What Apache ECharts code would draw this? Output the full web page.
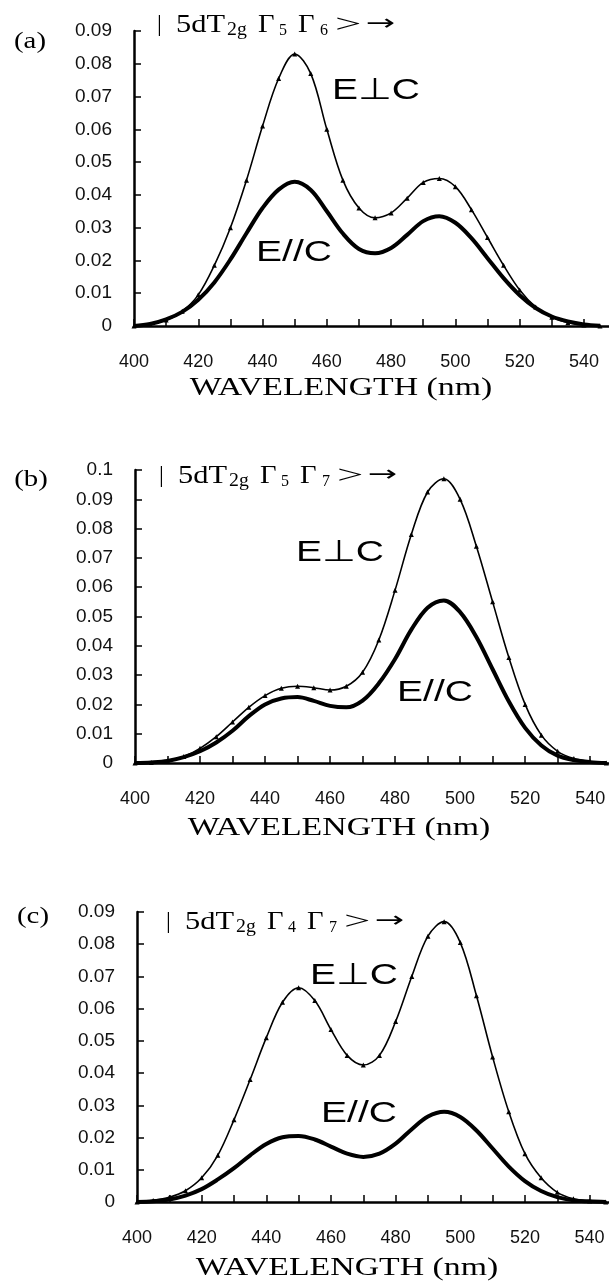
<!DOCTYPE html>
<html>
<head>
<meta charset="utf-8">
<script src="https://cdn.jsdelivr.net/npm/echarts@6/dist/echarts.min.js"></script>
<style>
  html, body { margin: 0; padding: 0; background: #fff; }
  #main { width: 609px; height: 1284px; }
</style>
</head>
<body>
<div id="main"></div>
<script>
// wavelength (nm)
var wl = [400, 405, 410, 415, 420, 425, 430, 435, 440, 445, 450, 455, 460, 465, 470, 475,
          480, 485, 490, 495, 500, 505, 510, 515, 520, 525, 530, 535, 540, 545];

// (a) |5dT2g Γ5 Γ6>
var aPerp = [0, 0.0005, 0.0018, 0.0045, 0.0095, 0.0185, 0.030, 0.0445, 0.061, 0.0755, 0.083, 0.077, 0.060, 0.0445, 0.036, 0.033,
             0.0345, 0.039, 0.0438, 0.045, 0.0425, 0.0355, 0.027, 0.0185, 0.011, 0.0058, 0.0027, 0.001, 0.0003, 0];
var aPara = [0, 0.0006, 0.002, 0.0043, 0.008, 0.0133, 0.0203, 0.0283, 0.036, 0.0416, 0.044, 0.0415, 0.035, 0.0282, 0.0235, 0.0222,
             0.0238, 0.0278, 0.032, 0.0335, 0.0315, 0.0268, 0.0207, 0.0146, 0.0094, 0.0055, 0.0029, 0.0014, 0.0005, 0.0001];

// (b) |5dT2g Γ5 Γ7>
var bPerp = [0, 0.0002, 0.0008, 0.0022, 0.005, 0.009, 0.014, 0.019, 0.023, 0.0255, 0.0262, 0.0257, 0.0249, 0.0262, 0.031, 0.042,
             0.059, 0.078, 0.0925, 0.097, 0.090, 0.074, 0.055, 0.036, 0.020, 0.0095, 0.004, 0.0015, 0.0005, 0];
var bPara = [0, 0.0002, 0.0007, 0.002, 0.004, 0.007, 0.011, 0.016, 0.020, 0.022, 0.0225, 0.0212, 0.0195, 0.019, 0.0213, 0.0272,
             0.0355, 0.0455, 0.053, 0.0555, 0.0515, 0.043, 0.032, 0.021, 0.012, 0.006, 0.0025, 0.001, 0.0003, 0];

// (c) |5dT2g Γ4 Γ7>
var cPerp = [0, 0.0005, 0.0015, 0.0035, 0.0075, 0.0145, 0.0255, 0.038, 0.051, 0.062, 0.0665, 0.0625, 0.0535, 0.0455, 0.0425, 0.0455,
             0.056, 0.070, 0.0825, 0.087, 0.0805, 0.064, 0.045, 0.028, 0.015, 0.0075, 0.003, 0.001, 0.0003, 0];
var cPara = [0, 0.0002, 0.0008, 0.002, 0.004, 0.007, 0.0105, 0.0145, 0.018, 0.0201, 0.0205, 0.0194, 0.0172, 0.015, 0.014, 0.015,
             0.0181, 0.0226, 0.0265, 0.028, 0.0264, 0.0222, 0.0166, 0.011, 0.0065, 0.0034, 0.0015, 0.0005, 0.0002, 0];

var yMax = [0.09, 0.1, 0.09];
var xMax = [547.8, 545.8, 546];

function pairs(ys) {
  return wl.map(function (x, i) { return [x, ys[i]]; });
}

var chart = echarts.init(document.getElementById('main'));

var grids = [
  { left: 134, top: 31, width: 475, height: 295 },
  { left: 135, top: 470, width: 474, height: 293 },
  { left: 137, top: 912, width: 472, height: 290 }
];

var xAxes = [], yAxes = [], series = [];
var sets = [[aPerp, aPara], [bPerp, bPara], [cPerp, cPara]];

grids.forEach(function (g, i) {
  xAxes.push({
    type: 'value', gridIndex: i, min: 400, max: xMax[i], interval: 10,
    axisLine: { lineStyle: { color: '#000', width: 2.5 } },
    axisTick: { inside: true, length: 7, lineStyle: { color: '#000', width: 1.5 } },
    axisLabel: {
      margin: 27, color: '#111', fontSize: 18, fontFamily: 'Liberation Sans',
      showMaxLabel: false,
      formatter: function (v) { return (v % 20 === 0 && v <= 540) ? v : ''; }
    },
    splitLine: { show: false }
  });
  yAxes.push({
    type: 'value', gridIndex: i, min: 0, max: yMax[i], interval: 0.01,
    axisLine: { show: true, lineStyle: { color: '#000', width: 2.5 } },
    axisTick: { show: true, inside: true, length: 7, lineStyle: { color: '#000', width: 1.5 } },
    axisLabel: { margin: 22, color: '#111', fontSize: 19, fontFamily: 'Liberation Sans' },
    splitLine: { show: false }
  });
  series.push({
    name: 'E⊥C', type: 'line', xAxisIndex: i, yAxisIndex: i, data: pairs(sets[i][0]),
    smooth: 0.35, symbol: 'triangle', symbolSize: 5, showSymbol: true,
    itemStyle: { color: '#000' }, lineStyle: { color: '#000', width: 1.6 }
  });
  series.push({
    name: 'E//C', type: 'line', xAxisIndex: i, yAxisIndex: i, data: pairs(sets[i][1]),
    smooth: 0.35, showSymbol: false,
    lineStyle: { color: '#000', width: 4 }
  });
});

var serif = 'Liberation Serif';
var sans = 'Liberation Sans';

function txt(x, y, text, size, family, align, sx) {
  return {
    type: 'text', x: x, y: y, scaleX: sx || 1,
    style: { text: text, fontSize: size, fontFamily: family, fill: '#000', align: align || 'left', verticalAlign: 'middle' }
  };
}

// |5dT2g Γa Γb>→ built piece by piece
function ket(dx, dy, a, b) {
  return [
    txt(157 + dx, 25 + dy, '|', 24, serif),
    txt(176 + dx, 25 + dy, '5dT', 26, serif, 'left', 1.17),
    txt(227 + dx, 30 + dy, '2g', 18, serif, 'left', 1.1),
    txt(258 + dx, 25 + dy, 'Γ', 26, serif, 'left', 1.1),
    txt(279 + dx, 31 + dy, a, 16, serif),
    txt(298 + dx, 25 + dy, 'Γ', 26, serif, 'left', 1.1),
    txt(320 + dx, 31 + dy, b, 16, serif),
    txt(335 + dx, 25 + dy, '>', 26, serif, 'left', 1.8),
    txt(366 + dx, 24 + dy, '→', 22, 'DejaVu Sans', 'left', 1.6)
  ];
}

var graphic = [
  txt(30, 42, '(a)', 24, serif, 'center', 1.2),
  txt(31, 480, '(b)', 24, serif, 'center', 1.2),
  txt(33, 917, '(c)', 24, serif, 'center', 1.2),
  txt(376, 91, 'E⊥C', 30, sans, 'center', 1.3),
  txt(294, 253, 'E//C', 30, sans, 'center', 1.3),
  txt(340, 553, 'E⊥C', 30, sans, 'center', 1.3),
  txt(435, 693, 'E//C', 30, sans, 'center', 1.3),
  txt(354, 976, 'E⊥C', 30, sans, 'center', 1.3),
  txt(359, 1114, 'E//C', 30, sans, 'center', 1.3),
  txt(341, 388, 'WAVELENGTH (nm)', 26, serif, 'center', 1.3),
  txt(339, 828, 'WAVELENGTH (nm)', 26, serif, 'center', 1.3),
  txt(347, 1268, 'WAVELENGTH (nm)', 26, serif, 'center', 1.3)
].concat(ket(0, 0, '5', '6'), ket(2, 451, '5', '7'), ket(9, 897, '4', '7'));

chart.setOption({
  backgroundColor: '#fff',
  animation: false,
  grid: grids,
  xAxis: xAxes,
  yAxis: yAxes,
  series: series,
  graphic: graphic
});
</script>
</body>
</html>
